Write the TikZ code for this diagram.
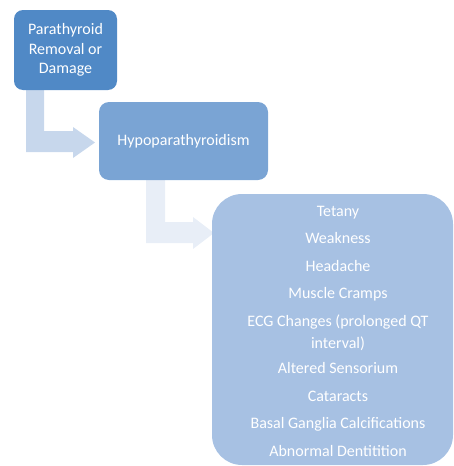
\documentclass[tikz,border=0pt]{standalone}
\usepackage{fontspec}
\setmainfont{Carlito}
\definecolor{cA}{HTML}{5089C6}
\definecolor{cB}{HTML}{7AA4D4}
\definecolor{cC}{HTML}{A7C1E3}
\definecolor{aA}{HTML}{C7D7EC}
\definecolor{aB}{HTML}{E8EEF7}
\tikzset{
  box/.style={fill=#1, draw=none, text=white, align=center, font=\fontsize{16}{19.5}\selectfont},
  item/.style={text=white, font=\fontsize{16}{22}\selectfont, align=center, inner sep=0pt},
  bent/.style={fill=#1, draw=none}
}
\begin{document}
\begin{tikzpicture}[x=1pt,y=-1pt]
\useasboundingbox (0,0) rectangle (454,466);
% arrows
\fill[aA] (26,90) -- (44,90) -- (44,131) -- (73,131) -- (73,127) -- (95,142.5) -- (73,158) -- (73,152) -- (26,152) -- cycle;
\fill[aB] (146,180) -- (165,180) -- (165,222) -- (193,222) -- (193,217) -- (214,233) -- (193,249) -- (193,243) -- (146,243) -- cycle;
% boxes
\path[fill=cA, rounded corners=9pt] (14,10) rectangle (117,90);
\node[box=cA, fill=none] (b1) at (65.5,50) {Parathyroid\\Removal or\\Damage};
\path[fill=cB, rounded corners=10pt] (99,102) rectangle (268,180);
\node[box=cB, fill=none] (b2) at (183.5,141) {Hypoparathyroidism};
\path[fill=cC, rounded corners=30pt] (212,194) rectangle (453,465);
\node[item, anchor=base] (t1) at (338,216) {Tetany};
\node[item, anchor=base] (t2) at (338,243.5) {Weakness};
\node[item, anchor=base] (t3) at (338,271) {Headache};
\node[item, anchor=base] (t4) at (338,298.5) {Muscle Cramps};
\node[item, anchor=base] (t5) at (338,326) {ECG Changes (prolonged QT};
\node[item, anchor=base] (t5b) at (338,348) {interval)};
\node[item, anchor=base] (t6) at (338,373.5) {Altered Sensorium};
\node[item, anchor=base] (t7) at (338,401) {Cataracts};
\node[item, anchor=base] (t8) at (338,428.5) {Basal Ganglia Calcifications};
\node[item, anchor=base] (t9) at (338,456) {Abnormal Dentitition};
\end{tikzpicture}
\end{document}
